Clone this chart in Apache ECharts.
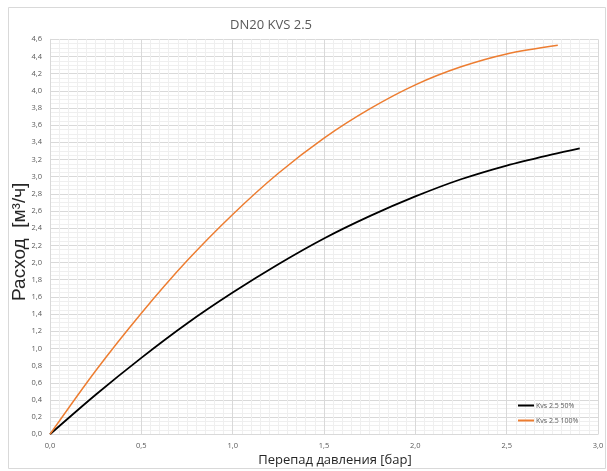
<!DOCTYPE html>
<html>
<head>
<meta charset="utf-8">
<script src="https://cdn.jsdelivr.net/npm/echarts@6/dist/echarts.min.js"></script>
<style>
html,body{margin:0;padding:0;background:#fff;}
#chart{width:607px;height:471px;}
</style>
</head>
<body>
<div id="chart"></div>
<script>
// Data
var titleText = 'DN20 KVS 2.5';
var xAxisName = 'Перепад давления [бар]';
var yAxisName = 'Расход  [м³/ч]';
var seriesNames = ['Kvs 2.5 50%', 'Kvs 2.5 100%'];
var xBlack = [0, 0.25, 0.5, 0.75, 1.0, 1.25, 1.5, 1.75, 2.0, 2.25, 2.5, 2.75, 2.9];
var yBlack = [0, 0.46, 0.89, 1.29, 1.65, 1.98, 2.28, 2.54, 2.77, 2.97, 3.13, 3.26, 3.33];
var xOrange = [0, 0.25, 0.5, 0.75, 1.0, 1.25, 1.5, 1.75, 2.0, 2.25, 2.5, 2.78];
var yOrange = [0, 0.74, 1.41, 2.02, 2.56, 3.04, 3.45, 3.79, 4.07, 4.28, 4.43, 4.53];

function pairs(xs, ys){ return xs.map(function(x,i){ return [x, ys[i]]; }); }
function fmt(v){ return v.toFixed(1).replace('.', ','); }

var chart = echarts.init(document.getElementById('chart'), null, {renderer:'canvas'});
chart.setOption({
  animation:false,
  backgroundColor:'#ffffff',
  graphic:[{
    type:'rect', left:6, top:5, shape:{width:597, height:461},
    style:{fill:'none', stroke:'#d9d9d9', lineWidth:1}, silent:true, z:-1
  }],
  title:{
    text:titleText, left:266, top:14, textAlign:'center',
    textStyle:{fontFamily:'Open Sans', fontSize:13, fontWeight:'normal', color:'#595959'}
  },
  legend:{
    orient:'vertical', left:513, top:397, itemWidth:16, itemHeight:2, itemGap:8,
    icon:'rect',
    textStyle:{fontFamily:'Open Sans', fontSize:7, color:'#595959', padding:[0,0,0,-3]},
    data:seriesNames
  },
  grid:{left:50, right:9, top:39.3, bottom:36.7, containLabel:false, outerBoundsMode:'none'},
  xAxis:{
    type:'value', min:0, max:3, interval:0.5,
    name:xAxisName, nameLocation:'middle', nameGap:19, nameMoveOverlap:false,
    nameTextStyle:{fontFamily:'Open Sans', fontSize:13, color:'#262626', padding:[0,0,0,22]},
    axisLine:{show:true, lineStyle:{color:'#d9d9d9'}},
    axisTick:{show:false},
    axisLabel:{formatter:fmt, fontFamily:'Open Sans', fontSize:7.5, color:'#595959', margin:8},
    splitLine:{show:true, lineStyle:{color:'#d9d9d9', width:1}},
    minorTick:{show:false, splitNumber:10},
    minorSplitLine:{show:true, lineStyle:{color:'#efefef', width:1}}
  },
  yAxis:{
    type:'value', min:0, max:4.6, interval:0.2,
    name:yAxisName, nameLocation:'middle', nameGap:21, nameRotate:90, nameMoveOverlap:false,
    nameTextStyle:{fontFamily:'Liberation Sans', fontSize:19, color:'#262626', padding:[0,0,0,-10]},
    axisLine:{show:true, lineStyle:{color:'#d9d9d9'}},
    axisTick:{show:false},
    axisLabel:{formatter:fmt, fontFamily:'Open Sans', fontSize:7.5, color:'#595959', margin:8},
    splitLine:{show:true, lineStyle:{color:'#d9d9d9', width:1}},
    minorTick:{show:false, splitNumber:4},
    minorSplitLine:{show:true, lineStyle:{color:'#efefef', width:1}}
  },
  series:[
    {name:seriesNames[0], type:'line', data:pairs(xBlack, yBlack), smooth:0.3, showSymbol:false, symbol:'none',
     lineStyle:{color:'#000000', width:1.8}, itemStyle:{color:'#000000'}},
    {name:seriesNames[1], type:'line', data:pairs(xOrange, yOrange), smooth:0.3, showSymbol:false, symbol:'none',
     lineStyle:{color:'#ED7D31', width:1.5}, itemStyle:{color:'#ED7D31'}}
  ]
});
</script>
</body>
</html>
